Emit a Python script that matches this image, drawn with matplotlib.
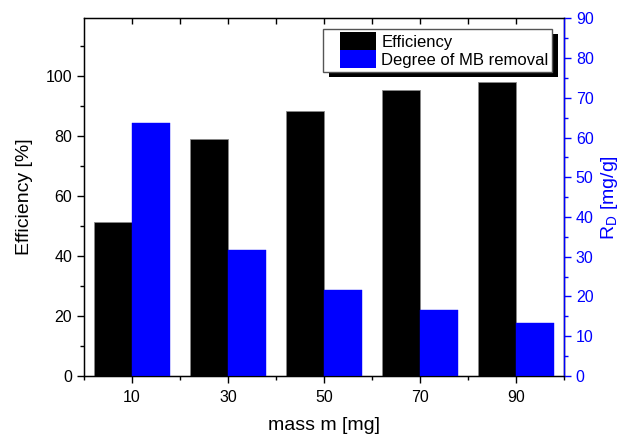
import matplotlib.pyplot as plt
from matplotlib.legend_handler import HandlerPatch
from matplotlib.patches import Rectangle
from matplotlib.ticker import MultipleLocator

plt.rcParams['font.family'] = ['Liberation Sans', 'DejaVu Sans']
plt.rcParams['mathtext.fontset'] = 'custom'
plt.rcParams['mathtext.rm'] = 'Liberation Sans'

mass = [10, 30, 50, 70, 90]
efficiency = [51.3, 79.0, 88.3, 95.3, 97.9]
removal = [63.7, 31.8, 21.6, 16.6, 13.3]

blue = '#0000ff'
w = 8

fig = plt.figure(figsize=(6.25, 4.38), dpi=100)
ax = fig.add_axes([0.1344, 0.1416, 0.768, 0.8167])
ax2 = ax.twinx()

b1 = ax.bar([m - w / 2 for m in mass], efficiency, width=w, color='black',
            edgecolor='#888888', linewidth=0.6, label='Efficiency', zorder=2)
b2 = ax2.bar([m + w / 2 for m in mass], removal, width=w, color=blue,
             edgecolor=blue, linewidth=0.3, label='Degree of MB removal', zorder=2)

ax.set_xlim(0, 100)
ax.set_ylim(0, 119.2)
ax2.set_ylim(0, 90)

ax.set_xticks(mass)
ax.xaxis.set_minor_locator(MultipleLocator(20))
ax.set_yticks([0, 20, 40, 60, 80, 100])
ax.yaxis.set_minor_locator(MultipleLocator(10))
ax2.yaxis.set_major_locator(MultipleLocator(10))
ax2.yaxis.set_minor_locator(MultipleLocator(5))

fs = 11.5
ax.tick_params(axis='x', which='both', direction='out', top=False, labelsize=fs, width=1)
ax.tick_params(axis='x', which='major', length=5, pad=5)
ax.tick_params(axis='x', which='minor', length=3)
ax.tick_params(axis='y', which='major', direction='out', length=5, labelsize=fs, width=1)
ax.tick_params(axis='y', which='minor', direction='out', length=3, width=1)
ax2.tick_params(axis='y', which='major', direction='out', length=5, labelsize=fs,
                colors=blue, width=1)
ax2.tick_params(axis='y', which='minor', direction='out', length=3, colors=blue, width=1)

# inward ticks along the top edge
top = ax.secondary_xaxis('top')
top.set_xticks(list(range(10, 100, 10)))
top.tick_params(direction='in', length=4, labeltop=False, width=1)
top.spines['top'].set_visible(False)

for s in ax.spines.values():
    s.set_linewidth(1)
ax2.spines['right'].set_color(blue)
ax2.spines['right'].set_linewidth(1)

ax.set_xlabel('mass m [mg]', fontsize=14, labelpad=9)
ax.set_ylabel('Efficiency [%]', fontsize=14, labelpad=9)
ax2.set_ylabel(r'R$_\mathrm{D}$ [mg/g]', fontsize=14, color=blue, labelpad=4)

h1 = Rectangle((0, 0), 1, 1, facecolor='black', edgecolor='none')
h2 = Rectangle((0, 0), 1, 1, facecolor=blue, edgecolor='none')
leg = ax2.legend([h1, h2], ['Efficiency', 'Degree of MB removal'],
                 handler_map={Rectangle: HandlerPatch(xpad=0.8, ypad=0.05)},
                 loc='upper right', bbox_to_anchor=(0.975, 0.97), fontsize=12,
                 frameon=True, fancybox=False, framealpha=1,
                 edgecolor='#555555', borderpad=0.2, labelspacing=0.0,
                 handlelength=3.0, handleheight=1.3, handletextpad=0.3,
                 borderaxespad=0)
leg.get_frame().set_linewidth(1)

# solid black drop shadow behind the legend
fig.canvas.draw()
bb = leg.get_window_extent()
ax2.add_patch(Rectangle((bb.x0 + 6, bb.y0 - 5), bb.width, bb.height, transform=None,
                        facecolor='black', edgecolor='none', zorder=4.9, clip_on=False))

fig.savefig('out.png', dpi=100)
